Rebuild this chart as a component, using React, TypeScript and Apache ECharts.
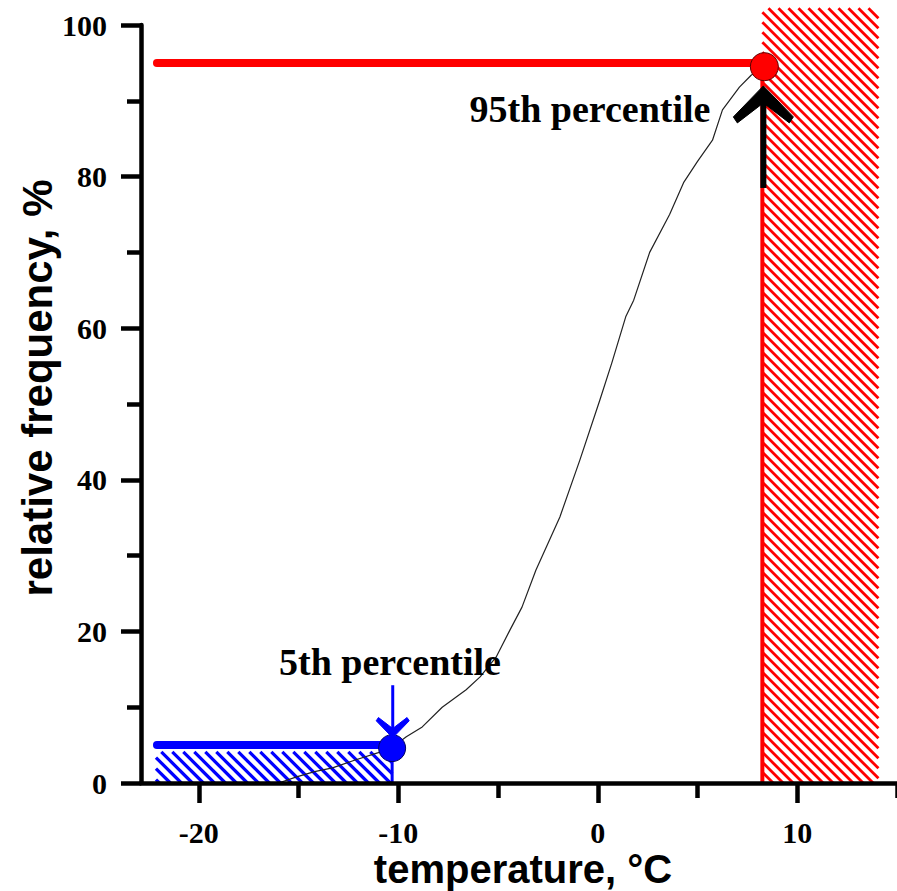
import React, { useEffect, useRef } from "react";
import * as echarts from "echarts";

// ---- data ----
const xMajorTicks = [-20, -10, 0, 10];
const xMinorTicks = [-15, -5, 5, 15];
const xRange = [-22.9, 15];
const yRange = [0, 100];

// cumulative frequency curve (temperature °C, relative frequency %)
const cdfTemps = [-16.0, -15.1, -14.2, -13.3, -12.2, -11.0, -10.3, -9.6, -8.8, -7.8, -6.6, -5.9, -5.1, -4.4, -3.8, -3.1, -1.9, -0.9, 0.1, 0.7, 1.4, 1.8, 2.6, 3.6, 4.3, 5.0, 5.75, 6.25, 7.1, 7.7, 8.35];
const cdfFreqs = [0, 0.8, 1.5, 2.0, 3.0, 4.0, 4.7, 6.1, 7.4, 10.0, 12.3, 14.0, 16.6, 20.2, 23.2, 28.1, 35.1, 42.6, 50.5, 55.4, 61.5, 63.7, 70.0, 75.0, 79.2, 82.0, 84.8, 88.8, 91.8, 93.4, 94.3];

// percentile points
const p5Point = [-10.31, 4.6];
const p95Point = [8.35, 94.5];
// horizontal percentile levels [xFrom, xTo, level]
const p5Level = [-22.1, -10.31, 5];
const p95Level = [-22.1, 8.35, 95];
// vertical risers [x, yFrom, yTo]
const p5Riser = [-10.31, 0, 4.6];
const p95Riser = [8.25, 0, 94];
// hatched zones [xFrom, xTo, yFrom, yTo]
const lowZone = [-22.15, -10.3, 0, 4.1];
const highZone = [8.25, 14.07, 0, 102.2];
// annotation arrows [x, yFrom, yTo]
const p5Arrow = [-10.28, 12.9, 6.1];
const p95Arrow = [8.3, 78.5, 91.7];

const RED = "#ff0000";
const BLUE = "#0000ff";

function hatchItem(color: string, period: number, width: number) {
  return (params: any, api: any) => {
    const a = api.coord([api.value(0), api.value(3)]);
    const b = api.coord([api.value(1), api.value(2)]);
    const x0 = Math.min(a[0], b[0]);
    const x1 = Math.max(a[0], b[0]);
    const y0 = Math.min(a[1], b[1]);
    const y1 = Math.max(a[1], b[1]);
    const children: any[] = [];
    // lines y = x + c  ("\" direction)
    for (let c = y0 - x1; c <= y1 - x0; c += period) {
      const lo = Math.max(x0, y0 - c);
      const hi = Math.min(x1, y1 - c);
      if (hi - lo > 0.5) {
        children.push({
          type: "line",
          shape: { x1: lo, y1: lo + c, x2: hi, y2: hi + c },
          style: { stroke: color, lineWidth: width },
        });
      }
    }
    return { type: "group", children };
  };
}

function arrowItem(color: string, scale: number, shaftWidth: number) {
  return (params: any, api: any) => {
    const b = api.coord([api.value(0), api.value(1)]);
    const t = api.coord([api.value(0), api.value(2)]);
    const dx = t[0] - b[0];
    const dy = t[1] - b[1];
    const len = Math.sqrt(dx * dx + dy * dy) || 1;
    const ux = dx / len;
    const uy = dy / len;
    const px = -uy;
    const py = ux;
    const local = [
      [2, 0],
      [-29, 30],
      [-35, 26],
      [-15, 0],
      [-35, -26],
      [-29, -30],
    ];
    const pts = local.map(([f, l]) => [
      t[0] + f * scale * ux + l * scale * px,
      t[1] + f * scale * uy + l * scale * py,
    ]);
    const shaftEnd = [t[0] - ux * 12 * scale, t[1] - uy * 12 * scale];
    return {
      type: "group",
      children: [
        {
          type: "line",
          shape: { x1: b[0], y1: b[1], x2: shaftEnd[0], y2: shaftEnd[1] },
          style: { stroke: color, lineWidth: shaftWidth },
        },
        {
          type: "polygon",
          shape: { points: pts },
          style: { fill: color, stroke: color, lineWidth: 1 },
        },
      ],
    };
  };
}

const tickFont = {
  fontFamily: "Liberation Serif",
  fontWeight: "bold" as const,
  fontSize: 30,
  color: "#000",
};

export default function App() {
  const ref = useRef<HTMLDivElement>(null);
  useEffect(() => {
    const chart = echarts.init(ref.current!, null, { renderer: "svg" });
    const curve = cdfTemps.map((t, i) => [t, cdfFreqs[i]]);
    const option: any = {
      animation: false,
      backgroundColor: "#ffffff",
      grid: { left: 141, right: 0, top: 25, bottom: 108, outerBoundsMode: "none" },
      xAxis: [
        {
          type: "value",
          min: xRange[0],
          max: xRange[1],
          position: "bottom",
          z: 10,
          splitLine: { show: false },
          axisLine: { show: true, onZero: false, lineStyle: { color: "#000", width: 4.5 } },
          axisTick: {
            show: true,
            length: 20,
            customValues: xMajorTicks,
            lineStyle: { color: "#000", width: 4.5 },
          },
          axisLabel: { ...tickFont, margin: 34, customValues: xMajorTicks },
        },
        {
          type: "value",
          min: xRange[0],
          max: xRange[1],
          position: "bottom",
          z: 10,
          splitLine: { show: false },
          axisLine: { show: false, onZero: false },
          axisTick: {
            show: true,
            length: 15,
            customValues: xMinorTicks,
            lineStyle: { color: "#000", width: 4.5 },
          },
          axisLabel: { show: false },
        },
      ],
      yAxis: {
        type: "value",
        min: yRange[0],
        max: yRange[1],
        interval: 20,
        z: 10,
        splitLine: { show: false },
        axisLine: { show: true, onZero: false, lineStyle: { color: "#000", width: 4.5 } },
        axisTick: { show: true, length: 20, lineStyle: { color: "#000", width: 4.5 } },
        minorTick: { show: true, splitNumber: 2, length: 14, lineStyle: { color: "#000", width: 4.5 } },
        minorSplitLine: { show: false },
        axisLabel: { ...tickFont, margin: 34 },
      },
      series: [
        {
          type: "custom",
          name: "low zone",
          clip: false,
          z: 1,
          renderItem: hatchItem(BLUE, 11, 3.2),
          data: [lowZone],
          silent: true,
        },
        {
          type: "custom",
          name: "high zone",
          clip: false,
          z: 1,
          renderItem: hatchItem(RED, 10, 2.8),
          data: [highZone],
          silent: true,
        },
        {
          type: "line",
          name: "cumulative frequency",
          data: curve,
          symbol: "none",
          z: 3,
          lineStyle: { color: "#222", width: 1.2 },
        },
        {
          type: "line",
          name: "95th level",
          data: [[p95Level[0], p95Level[2]], [p95Level[1], p95Level[2]]],
          symbol: "none",
          z: 4,
          lineStyle: { color: RED, width: 8, cap: "round" },
        },
        {
          type: "line",
          name: "5th level",
          data: [[p5Level[0], p5Level[2]], [p5Level[1], p5Level[2]]],
          symbol: "none",
          z: 4,
          lineStyle: { color: BLUE, width: 8, cap: "round" },
        },
        {
          type: "line",
          name: "95th riser",
          data: [[p95Riser[0], p95Riser[1]], [p95Riser[0], p95Riser[2]]],
          symbol: "none",
          z: 4,
          lineStyle: { color: RED, width: 4 },
        },
        {
          type: "line",
          name: "5th riser",
          data: [[p5Riser[0], p5Riser[1]], [p5Riser[0], p5Riser[2]]],
          symbol: "none",
          z: 4,
          lineStyle: { color: BLUE, width: 3 },
        },
        {
          type: "scatter",
          name: "95th point",
          data: [p95Point],
          symbol: "circle",
          symbolSize: 28,
          z: 5,
          itemStyle: { color: RED, borderColor: "#5a0000", borderWidth: 1, opacity: 1 },
        },
        {
          type: "scatter",
          name: "5th point",
          data: [p5Point],
          symbol: "circle",
          symbolSize: 27,
          z: 5,
          itemStyle: { color: BLUE, borderColor: "#000060", borderWidth: 1, opacity: 1 },
        },
        {
          type: "custom",
          name: "95th arrow",
          clip: false,
          z: 6,
          renderItem: arrowItem("#000", 1, 6),
          data: [p95Arrow],
          silent: true,
        },
        {
          type: "custom",
          name: "5th arrow",
          clip: false,
          z: 6,
          renderItem: arrowItem(BLUE, 0.55, 3),
          data: [p5Arrow],
          silent: true,
        },
      ],
      graphic: [
        {
          type: "text",
          x: 590,
          y: 109,
          z: 100,
          style: {
            text: "95th percentile",
            align: "center",
            verticalAlign: "middle",
            fontFamily: "Liberation Serif",
            fontWeight: "bold",
            fontSize: 38,
            fill: "#000",
          },
        },
        {
          type: "text",
          x: 390,
          y: 662,
          z: 100,
          style: {
            text: "5th percentile",
            align: "center",
            verticalAlign: "middle",
            fontFamily: "Liberation Serif",
            fontWeight: "bold",
            fontSize: 38,
            fill: "#000",
          },
        },
        {
          type: "text",
          x: 523,
          y: 869,
          z: 100,
          style: {
            text: "temperature, °C",
            align: "center",
            verticalAlign: "middle",
            fontFamily: "Liberation Sans",
            fontWeight: "bold",
            fontSize: 40,
            fill: "#000",
          },
        },
        {
          type: "text",
          x: 37,
          y: 388,
          rotation: Math.PI / 2,
          z: 100,
          style: {
            text: "relative frequency, %",
            align: "center",
            verticalAlign: "middle",
            fontFamily: "Liberation Sans",
            fontWeight: "bold",
            fontSize: 42,
            fill: "#000",
          },
        },
      ],
    };
    chart.setOption(option);
    return () => chart.dispose();
  }, []);
  return (
    <div
      ref={ref}
      style={{ position: "fixed", left: 0, top: 0, width: 897, height: 891 }}
    />
  );
}
